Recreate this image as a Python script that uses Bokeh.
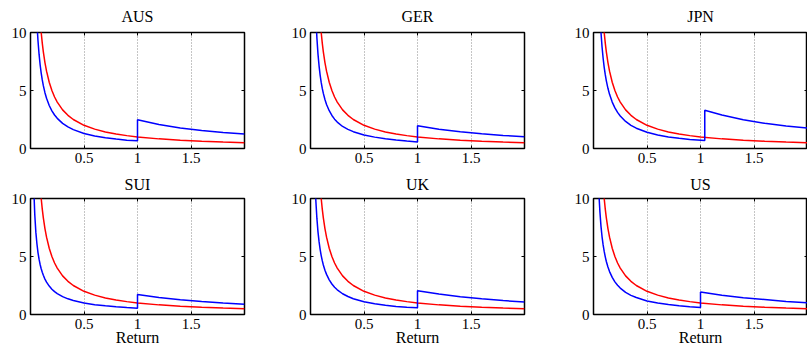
from bokeh.plotting import figure
from bokeh.layouts import gridplot
from bokeh.models import Range1d, FixedTicker, LinearAxis, CustomLabelingPolicy
from bokeh.embed import file_html
from bokeh.resources import INLINE

countries = ["AUS", "GER", "JPN", "SUI", "UK", "US"]

x_ticks = [0.5, 1, 1.5]
x_tick_labels = ["0.5", "1", "1.5"]
y_ticks = [0, 5, 10]
x_label = "Return"

# red curve (identical in every panel)
red_x = [0.09, 0.1, 0.11, 0.12, 0.135, 0.15, 0.175, 0.2, 0.225, 0.25, 0.3, 0.35,
         0.4, 0.5, 0.6, 0.7, 0.8, 0.9, 1.0, 1.2, 1.4, 1.6, 1.8, 2.0]
red_y = [11.1, 10.0, 9.09, 8.33, 7.41, 6.67, 5.71, 5.0, 4.44, 4.0, 3.33, 2.86,
         2.5, 2.0, 1.67, 1.43, 1.25, 1.11, 1.0, 0.83, 0.71, 0.63, 0.56, 0.5]

# blue curve: below the jump, the jump itself, above the jump
blue_x_low = [0.03, 0.04, 0.05, 0.06, 0.07, 0.08, 0.09, 0.1, 0.11, 0.12, 0.135, 0.15,
              0.175, 0.2, 0.225, 0.25, 0.3, 0.35, 0.4, 0.5, 0.6, 0.7, 0.8, 0.9]
blue_x_high = [1.2, 1.4, 1.6, 1.8, 2.0]
jump_x = [1.0, 1.0, 1.04, 1.0, 1.0, 1.0]
blue_before = [0.66, 0.57, 0.68, 0.54, 0.59, 0.61]
blue_after = [2.48, 1.96, 3.3, 1.73, 2.05, 1.94]

aus_blue_low = [21.7, 16.3, 13.0, 10.8, 9.29, 8.13, 7.22, 6.5, 5.91, 5.42, 4.81, 4.33,
                3.71, 3.25, 2.89, 2.6, 2.17, 1.86, 1.63, 1.3, 1.08, 0.93, 0.81, 0.72]
ger_blue_low = [19.0, 14.3, 11.4, 9.5, 8.14, 7.13, 6.33, 5.7, 5.18, 4.75, 4.22, 3.8,
                3.26, 2.85, 2.53, 2.28, 1.9, 1.65, 1.45, 1.17, 0.98, 0.84, 0.73, 0.64]
jpn_blue_low = [23.3, 17.5, 14.0, 11.7, 10.0, 8.75, 7.78, 7.0, 6.36, 5.83, 5.19, 4.67,
                4.0, 3.5, 3.11, 2.8, 2.33, 2.0, 1.75, 1.4, 1.17, 1.0, 0.875, 0.78]
sui_blue_low = [11.0, 8.6, 7.1, 6.1, 5.34, 4.77, 4.31, 3.94, 3.64, 3.38, 3.05, 2.79,
                2.45, 2.18, 1.97, 1.8, 1.54, 1.35, 1.21, 1.0, 0.85, 0.75, 0.67, 0.6]
uk_blue_low = [16.0, 12.1, 9.8, 8.26, 7.12, 6.28, 5.62, 5.08, 4.64, 4.27, 3.82, 3.46,
               2.99, 2.63, 2.35, 2.13, 1.79, 1.55, 1.36, 1.1, 0.93, 0.8, 0.7, 0.63]
us_blue_low = [17.1, 13.0, 10.5, 8.85, 7.6, 6.7, 6.0, 5.44, 4.97, 4.57, 4.09, 3.7,
               3.2, 2.81, 2.52, 2.28, 1.91, 1.65, 1.46, 1.16, 0.99, 0.86, 0.75, 0.67]

aus_blue_high = [2.07, 1.77, 1.56, 1.38, 1.25]
ger_blue_high = [1.66, 1.45, 1.28, 1.13, 1.01]
jpn_blue_high = [2.88, 2.47, 2.17, 1.94, 1.76]
sui_blue_high = [1.47, 1.28, 1.13, 1.0, 0.89]
uk_blue_high = [1.76, 1.52, 1.35, 1.2, 1.07]
us_blue_high = [1.66, 1.45, 1.29, 1.13, 1.0]

blue_low = [aus_blue_low, ger_blue_low, jpn_blue_low, sui_blue_low, uk_blue_low, us_blue_low]
blue_high = [aus_blue_high, ger_blue_high, jpn_blue_high, sui_blue_high, uk_blue_high, us_blue_high]

FONT = "Liberation Serif"
FRAME_W, FRAME_H = 214, 116
col_borders = [(30, 36), (30, 33), (36, 0)]
row_borders = [(32, 21), (29, 36)]
title_gap = [12, 8]

no_labels = CustomLabelingPolicy(code="return new Set()")


def make_panel(i):
    r, c = divmod(i, 3)
    bl, br = col_borders[c]
    bt, bb = row_borders[r]
    p = figure(width=bl + FRAME_W + br, height=bt + FRAME_H + bb,
               x_range=Range1d(0, 2), y_range=Range1d(0, 10),
               output_backend="svg", toolbar_location=None, tools="",
               min_border_left=bl, min_border_right=br,
               min_border_top=bt, min_border_bottom=bb,
               title=countries[i])
    p.background_fill_color = "white"
    p.border_fill_color = "white"
    p.outline_line_color = "black"
    p.outline_line_width = 1.5

    p.title.align = "center"
    p.title.vertical_align = "top"
    p.title.text_font = FONT
    p.title.text_font_size = "16px"
    p.title.text_font_style = "normal"
    p.title.text_color = "black"
    p.title.standoff = title_gap[r]

    xa = p.below[0]
    xa.ticker = FixedTicker(ticks=x_ticks)
    xa.major_label_overrides = {t: s for t, s in zip(x_ticks, x_tick_labels)}
    ya = p.left[0]
    ya.ticker = FixedTicker(ticks=y_ticks)
    for ax in (xa, ya):
        ax.axis_line_color = None
        ax.major_tick_in = 3
        ax.major_tick_out = 0
        ax.major_tick_line_color = "black"
        ax.minor_tick_line_color = None
        ax.major_label_text_font = FONT
        ax.major_label_text_font_size = "15px"
        ax.major_label_text_color = "black"
        ax.major_label_standoff = 4
    if r == 1:
        xa.axis_label = x_label
        xa.axis_label_text_font = FONT
        xa.axis_label_text_font_size = "16px"
        xa.axis_label_text_font_style = "normal"
        xa.axis_label_text_color = "black"
        xa.axis_label_standoff = -3

    # inward ticks on the top and right edges of the box, without labels
    for loc, tk in (("above", x_ticks), ("right", y_ticks)):
        ex = LinearAxis(ticker=FixedTicker(ticks=tk), axis_line_color=None,
                        major_tick_in=3, major_tick_out=0, minor_tick_line_color=None,
                        major_tick_line_color="black", major_label_standoff=0,
                        major_label_text_font_size="0px",
                        major_label_policy=no_labels)
        p.add_layout(ex, loc)

    p.xgrid.ticker = FixedTicker(ticks=x_ticks)
    p.xgrid.grid_line_color = "#8a8a8a"
    p.xgrid.grid_line_dash = "1 2"
    p.xgrid.grid_line_width = 1
    p.ygrid.visible = False

    p.line(red_x, red_y, line_color="#ff0000", line_width=1.5)
    bx = blue_x_low + [jump_x[i], jump_x[i]] + blue_x_high
    by = blue_low[i] + [blue_before[i], blue_after[i]] + blue_high[i]
    p.line(bx, by, line_color="#0000ff", line_width=1.5)
    return p


panels = [make_panel(i) for i in range(6)]
grid = gridplot([panels[:3], panels[3:]], toolbar_location=None)

open("out.html", "w").write(file_html(grid, INLINE))
